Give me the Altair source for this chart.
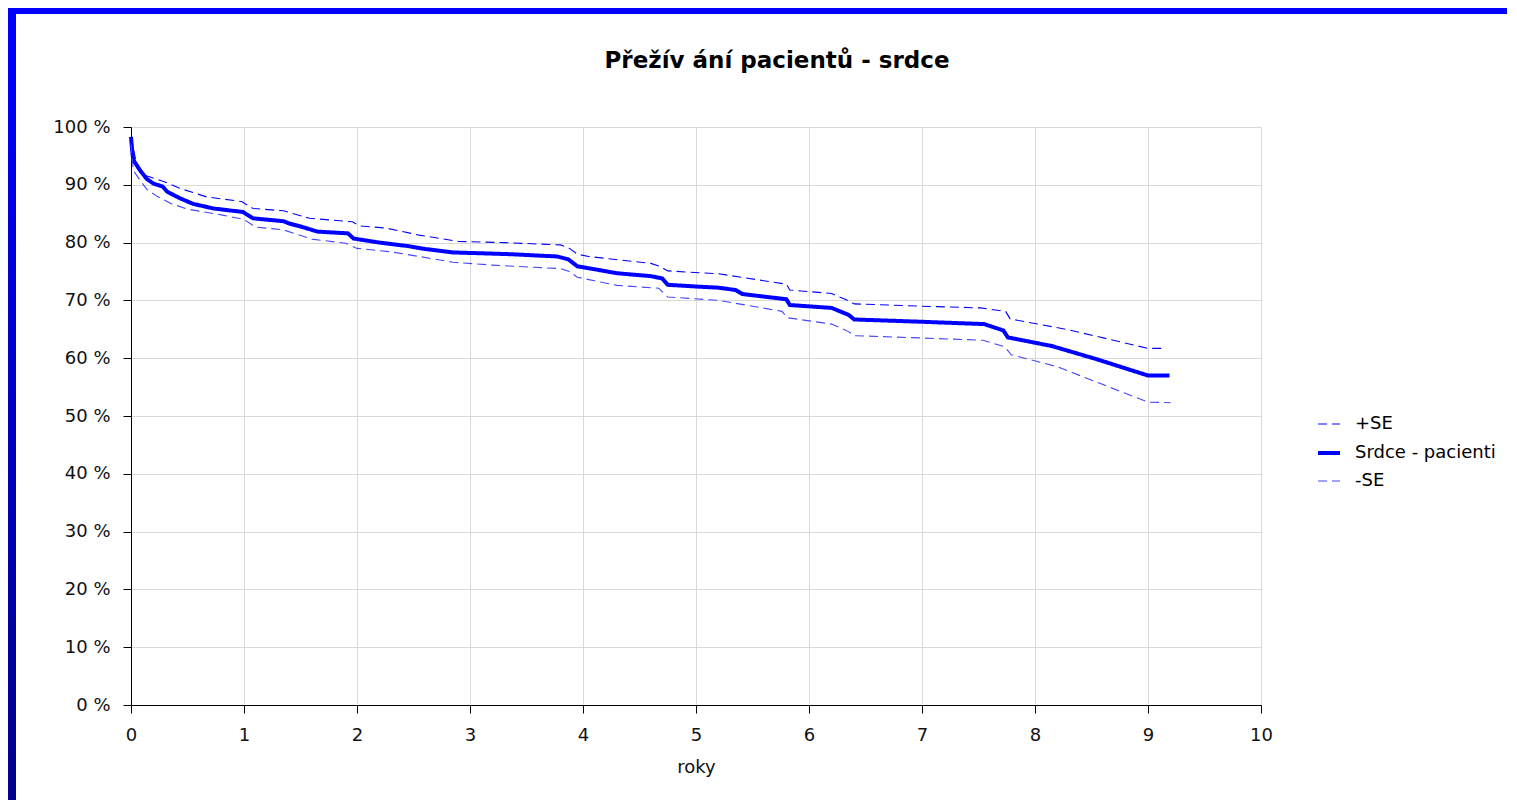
import altair as alt
import pandas as pd

# ---- data ----
main_x = [0, 0.01, 0.02, 0.08, 0.14, 0.2, 0.28, 0.32, 0.43, 0.55, 0.73, 0.99, 1.08, 1.35, 1.4,
          1.5, 1.65, 1.92, 1.97, 2.2, 2.45, 2.6, 2.85, 3.35, 3.77, 3.87, 3.95, 4.1, 4.3, 4.6,
          4.7, 4.75, 5.0, 5.2, 5.35, 5.41, 5.8, 5.83, 6.2, 6.35, 6.4, 7.0, 7.55, 7.72, 7.76,
          8.15, 8.55, 9.0, 9.19]
main_y = [98.3, 96.0, 94.3, 92.5, 91.0, 90.2, 89.7, 88.8, 87.7, 86.7, 85.9, 85.3, 84.2, 83.7, 83.3,
          82.8, 81.9, 81.6, 80.7, 80.0, 79.4, 78.9, 78.3, 78.0, 77.6, 77.1, 75.9, 75.4, 74.7, 74.2,
          73.8, 72.7, 72.4, 72.2, 71.8, 71.1, 70.2, 69.2, 68.7, 67.5, 66.7, 66.3, 65.9, 64.8, 63.6,
          62.1, 59.8, 57.0, 57.0]

upper_x = [0, 0.05, 0.13, 0.3, 0.43, 0.67, 0.98, 1.08, 1.35, 1.58, 1.96, 2.02, 2.26, 2.55, 2.9,
           3.3, 3.8, 3.88, 3.95, 4.05, 4.6, 4.68, 4.75, 5.2, 5.4, 5.8, 5.83, 6.2, 6.33, 6.4, 7.0,
           7.52, 7.74, 7.78, 8.3, 9.0, 9.14]
upper_y = [98.3, 93.5, 91.6, 90.5, 89.4, 87.9, 87.1, 85.9, 85.5, 84.2, 83.6, 82.9, 82.5, 81.3, 80.2,
           80.0, 79.6, 79.0, 78.0, 77.6, 76.4, 75.9, 75.1, 74.6, 74.0, 72.8, 71.8, 71.2, 70.1, 69.4, 69.0,
           68.7, 68.1, 66.8, 64.9, 61.7, 61.7]

lower_x = [0, 0.02, 0.08, 0.14, 0.23, 0.36, 0.5, 0.8, 1.0, 1.1, 1.35, 1.6, 1.9, 2.0, 2.3, 2.55,
           2.85, 3.2, 3.8, 3.88, 3.95, 4.1, 4.3, 4.67, 4.75, 5.2, 5.5, 5.76, 5.81, 6.2, 6.35, 6.4,
           7.0, 7.54, 7.73, 7.79, 7.95, 8.2, 9.0, 9.2]
lower_y = [97.0, 92.5, 90.8, 89.2, 88.0, 86.7, 85.8, 84.8, 84.0, 82.7, 82.2, 80.6, 79.9, 79.0, 78.4, 77.6,
           76.6, 76.1, 75.5, 75.0, 74.0, 73.4, 72.6, 72.1, 70.6, 70.0, 69.0, 68.1, 67.0, 65.9, 64.6, 63.9,
           63.5, 63.1, 62.0, 60.6, 59.8, 58.5, 52.4, 52.3]

series_names = ["+SE", "Srdce - pacienti", "-SE"]
series_colors = ["#0000ff", "#0000ff", "#4545ff"]
series_widths = [1.1, 4, 1.1]
series_dash = [[9, 5], [1, 0], [9, 5]]

title_text = "Přežív ání pacientů - srdce"
x_title = "roky"

rows = []
for name, xs, ys in [("+SE", upper_x, upper_y), ("Srdce - pacienti", main_x, main_y), ("-SE", lower_x, lower_y)]:
    for i, (a, b) in enumerate(zip(xs, ys)):
        rows.append({"series": name, "x": a, "y": b, "i": i})
df = pd.DataFrame(rows)

PAD_L, PAD_T, PAD_R, PAD_B = 123, 119, 246, 95
W, H = 1130, 578

leg = alt.Legend(title=None, orient="none", legendX=1185, legendY=285,
                 symbolType="stroke", symbolSize=484, labelFontSize=18,
                 labelFont="DejaVu Sans", labelColor="#000000", rowPadding=7,
                 labelOffset=13, padding=0)

lines = alt.Chart(df).mark_line(clip=False).encode(
    x=alt.X("x:Q", scale=alt.Scale(domain=[0, 10], nice=False),
            axis=alt.Axis(values=list(range(0, 11)), title=x_title, format="d", labelFlush=False)),
    y=alt.Y("y:Q", scale=alt.Scale(domain=[0, 100], nice=False),
            axis=alt.Axis(values=list(range(0, 101, 10)), title=None, labelFlush=False,
                          labelExpr="datum.value + ' %'")),
    color=alt.Color("series:N", scale=alt.Scale(type="ordinal", domain=series_names, range=series_colors), legend=leg),
    strokeWidth=alt.StrokeWidth("series:N", scale=alt.Scale(type="ordinal", domain=series_names, range=series_widths), legend=leg),
    strokeDash=alt.StrokeDash("series:N", scale=alt.Scale(type="ordinal", domain=series_names, range=series_dash), legend=leg),
    order="i:Q",
)

one = pd.DataFrame({"k": [0]})
grad = alt.Gradient(gradient="linear",
                    stops=[alt.GradientStop(color="#0000ff", offset=0),
                           alt.GradientStop(color="#000088", offset=1)],
                    x1=0, x2=0, y1=0, y2=1)
left_bar = alt.Chart(one).mark_rect(fill=grad, clip=False).encode(
    x=alt.value(-PAD_L), x2=alt.value(-PAD_L + 8),
    y=alt.value(-PAD_T), y2=alt.value(H + PAD_B))
top_bar = alt.Chart(one).mark_rect(fill="#0000ff", clip=False).encode(
    x=alt.value(-PAD_L), x2=alt.value(W + PAD_R),
    y=alt.value(-PAD_T), y2=alt.value(-PAD_T + 6))

chart = alt.layer(left_bar, top_bar, lines).properties(
    width=W, height=H,
    autosize=alt.AutoSizeParams(type="none"),
    padding={"left": PAD_L, "top": PAD_T, "right": PAD_R, "bottom": PAD_B},
    title=alt.TitleParams(title_text, font="DejaVu Sans", fontSize=23, fontWeight="bold",
                          color="#000000", anchor="middle", frame="group", dx=81, offset=-65),
).configure_view(strokeWidth=0).configure_axis(
    labelFont="DejaVu Sans", labelFontSize=18, labelColor="#111111",
    titleFont="DejaVu Sans", titleFontSize=18, titleColor="#111111", titleFontWeight="normal",
    domainColor="#000000", tickColor="#000000", tickSize=8, gridColor="#d9d9d9",
    domainWidth=1, tickWidth=1, gridWidth=1,
).configure_axisY(labelPadding=13).configure_axisX(labelPadding=13, titlePadding=14)

chart.save("out.html", embed_options={"renderer": "svg", "actions": False})
